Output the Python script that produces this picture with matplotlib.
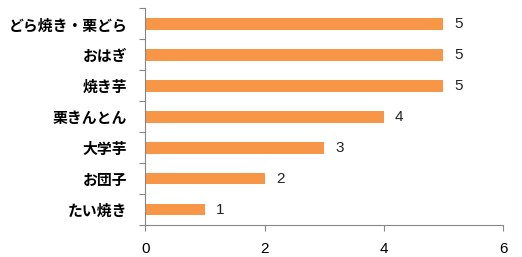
import numpy as np
import matplotlib
matplotlib.use("Agg")
import matplotlib.pyplot as plt

plt.rcParams['font.family'] = ['Noto Sans CJK JP', 'DejaVu Sans']

# data (top to bottom as in the chart)
categories = ['どら焼き・栗どら', 'おはぎ', '焼き芋', '栗きんとん', '大学芋', 'お団子', 'たい焼き']
counts = [5, 5, 5, 4, 3, 2, 1]
x_ticks = [0, 2, 4, 6]

bar_color = '#F79646'
axis_color = '#868686'

fig = plt.figure(figsize=(5.22, 2.57), dpi=100)
ax = fig.add_axes([0.2787, 0.1245, 0.685, 0.843])

y = np.arange(len(categories))[::-1]
ax.barh(y, counts, height=0.38, color=bar_color)

for yi, v in zip(y, counts):
    ax.annotate(str(v), xy=(v, yi), xytext=(8, 0), textcoords='offset points',
                va='center', ha='left', fontsize=11, color='#222222',
                family=['Liberation Sans', 'DejaVu Sans'])

ax.set_xlim(0, 6)
ax.set_ylim(-0.5, len(categories) - 0.5)
ax.set_xticks(x_ticks)
ax.set_xticklabels([str(t) for t in x_ticks], fontsize=11,
                   family=['Liberation Sans', 'DejaVu Sans'])

ax.set_yticks(y)
ax.set_yticklabels(categories, fontsize=10.7, fontweight='bold')
ax.set_yticks(np.arange(-0.5, len(categories), 1), minor=True)
ax.tick_params(axis='y', which='major', length=0, pad=13)
ax.tick_params(axis='y', which='minor', length=4, color=axis_color, width=0.8)
ax.tick_params(axis='x', length=4, color=axis_color, width=0.8, pad=8)

for side in ['top', 'right']:
    ax.spines[side].set_visible(False)
for side in ['left', 'bottom']:
    ax.spines[side].set_color(axis_color)
    ax.spines[side].set_linewidth(0.8)

fig.savefig('out.png', dpi=100)
